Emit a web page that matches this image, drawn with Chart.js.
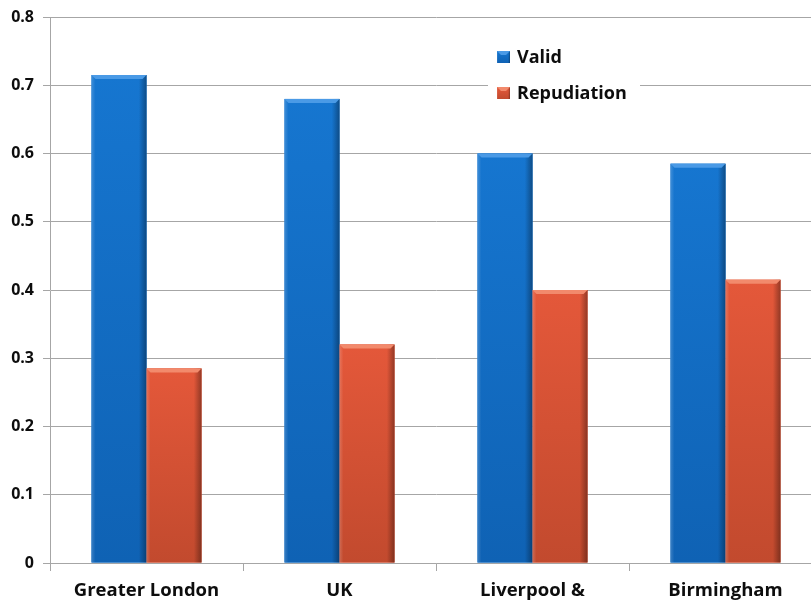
<!DOCTYPE html>
<html>
<head>
<meta charset="utf-8">
<script src="https://cdn.jsdelivr.net/npm/chart.js@4/dist/chart.umd.min.js"></script>
<style>
  html, body { margin: 0; padding: 0; background: #fff; overflow: hidden; }
  #wrap { width: 830px; height: 605px; }
</style>
</head>
<body>
<div id="wrap"><canvas id="shareChart" width="830" height="605"></canvas></div>
<script>
// share of valid vs repudiation responses by area
const categories = ["Greater London", "UK", "Liverpool &", "Birmingham"];
const validShare = [0.715, 0.68, 0.6, 0.585];
const repudiationShare = [0.285, 0.32, 0.4, 0.415];
const seriesNames = ["Valid", "Repudiation"];

const FONT = "'Open Sans', 'DejaVu Sans', sans-serif";

// shades used for the bevelled bars
const shades = [
    { main: "#1676d0", top: "#4a9ae6", bottom: "#0f62b4" },
    { main: "#e4583a", top: "#f28a6c", bottom: "#c24a2e" }
];

function shadeBar(ctx, x0, x1, yTop, yBase, s) {
    const w = x1 - x0;
    const h = yBase - yTop;
    // vertical body
    const gv = ctx.createLinearGradient(0, yTop, 0, yBase);
    gv.addColorStop(0, s.main);
    gv.addColorStop(1, s.bottom);
    ctx.fillStyle = gv;
    ctx.fillRect(x0, yTop, w, h);
    // side edges
    const gh = ctx.createLinearGradient(x0, 0, x1, 0);
    gh.addColorStop(0, "rgba(255,255,255,0.18)");
    gh.addColorStop(0.07, "rgba(255,255,255,0)");
    gh.addColorStop(0.86, "rgba(0,0,0,0)");
    gh.addColorStop(1, "rgba(0,0,0,0.35)");
    ctx.fillStyle = gh;
    ctx.fillRect(x0, yTop, w, h);
    // top bevel
    const b = Math.min(4, h);
    ctx.fillStyle = s.top;
    ctx.beginPath();
    ctx.moveTo(x0, yTop);
    ctx.lineTo(x1, yTop);
    ctx.lineTo(x1 - b, yTop + b);
    ctx.lineTo(x0 + b, yTop + b);
    ctx.closePath();
    ctx.fill();
}

const bevelBars = {
    id: "bevelBars",
    afterDatasetsDraw(chart) {
        const ctx = chart.ctx;
        ctx.save();
        chart.data.datasets.forEach((ds, i) => {
            chart.getDatasetMeta(i).data.forEach(bar => {
                const p = bar.getProps(["x", "y", "base", "width"], true);
                shadeBar(ctx, p.x - p.width / 2, p.x + p.width / 2, p.y, p.base, shades[i]);
            });
        });
        ctx.restore();
    }
};

// legend box sits inside the plot, over the gridlines
const insideLegend = {
    id: "insideLegend",
    afterDraw(chart) {
        const ctx = chart.ctx;
        ctx.save();
        ctx.fillStyle = "#fff";
        ctx.fillRect(488, 36, 152, 76);
        ctx.font = "bold 18px " + FONT;
        ctx.textBaseline = "middle";
        seriesNames.forEach((name, i) => {
            const cy = 57 + i * 36;
            shadeBar(ctx, 497, 510, cy - 6, cy + 6, shades[i]);
            ctx.fillStyle = "#0d0d0d";
            ctx.fillText(name, 517, cy + 1);
        });
        ctx.restore();
    }
};

new Chart(document.getElementById("shareChart"), {
    type: "bar",
    data: {
        labels: categories,
        datasets: [
            { label: seriesNames[0], data: validShare, backgroundColor: shades[0].main },
            { label: seriesNames[1], data: repudiationShare, backgroundColor: shades[1].main }
        ]
    },
    options: {
        responsive: false,
        animation: false,
        layout: { padding: { top: 15, right: 8, left: 0, bottom: 0 } },
        datasets: {
            bar: { categoryPercentage: 0.57, barPercentage: 1.0 }
        },
        plugins: {
            legend: { display: false },
            tooltip: { enabled: false }
        },
        scales: {
            y: {
                min: 0,
                max: 0.8,
                ticks: {
                    stepSize: 0.1,
                    padding: 9,
                    color: "#0d0d0d",
                    font: { family: FONT, size: 16, weight: "bold", lineHeight: 1 },
                    callback: v => v === 0 ? "0" : v.toFixed(1)
                },
                grid: { color: "#a6a6a6", tickLength: 7 },
                border: { color: "#a6a6a6" },
                afterFit(scale) { scale.width = 50; }
            },
            x: {
                ticks: {
                    padding: 9,
                    color: "#0d0d0d",
                    font: { family: FONT, size: 18.5, weight: "bold" }
                },
                grid: { drawOnChartArea: false, color: "#a6a6a6", tickLength: 8 },
                border: { color: "#a6a6a6" },
                afterFit(scale) { scale.height = 42; }
            }
        }
    },
    plugins: [bevelBars, insideLegend]
});
</script>
</body>
</html>
